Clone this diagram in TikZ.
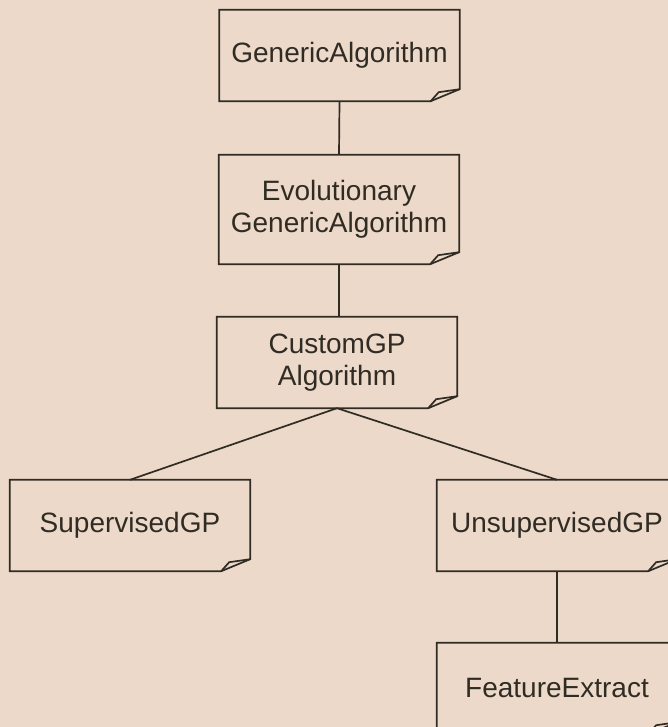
\documentclass[tikz,border=0pt]{standalone}
\usepackage{fontspec}
\setmainfont{Liberation Sans}
\usepackage{tikz}
\usetikzlibrary{calc}
\definecolor{paper}{RGB}{236,217,202}
\definecolor{ink}{RGB}{48,44,36}

\begin{document}
\begin{tikzpicture}[
  x=1pt, y=1pt,
  cls/.style={inner sep=0pt, fill=paper, align=center, text=ink,
              minimum width=240pt, minimum height=91pt,
              font=\fontsize{28}{32}\selectfont},
  rim/.style={draw=ink, line width=1.7pt, line join=miter},
  link/.style={draw=ink, line width=1.7pt}]

% the page
\fill[paper] (0,0) rectangle (668,727);
\clip (0,0) rectangle (668,727);

% ================= the classes ============================================
\node[cls] (ga)  at (339.5,671.5) {GenericAlgorithm};
\node[cls, minimum height=109pt] (ega) at (339,517.5)
     {Evolutionary\\GenericAlgorithm};
\node[cls] (cgp) at (337,364.5) {CustomGP\\Algorithm};
\node[cls] (sgp) at (130,201.5) {SupervisedGP};
\node[cls] (ugp) at (557,201.5) {UnsupervisedGP};
\node[cls] (fe)  at (557,38.5)  {FeatureExtract};

% outline with the turned-up corner
\foreach \n in {ga,ega,cgp,sgp,ugp,fe} {
  \draw[rim] ($(\n.south east)+(-29,0)$) -- (\n.south west) |- (\n.north east)
             -- ($(\n.south east)+(0,12)$) -- cycle;
  \draw[rim] ($(\n.south east)+(-29,0)$) -- ($(\n.south east)+(-21,9)$)
             -- ($(\n.south east)+(0,12)$);
}

% ================= the links ==============================================
\draw[link] (ga.south)  -- (ega.north);
\draw[link] (ega.south) -- (ega.south |- cgp.north);
\draw[link] (cgp.south) -- (sgp.north);
\draw[link] (cgp.south) -- (ugp.north);
\draw[link] (ugp.south) -- (fe.north);

\end{tikzpicture}
\end{document}
